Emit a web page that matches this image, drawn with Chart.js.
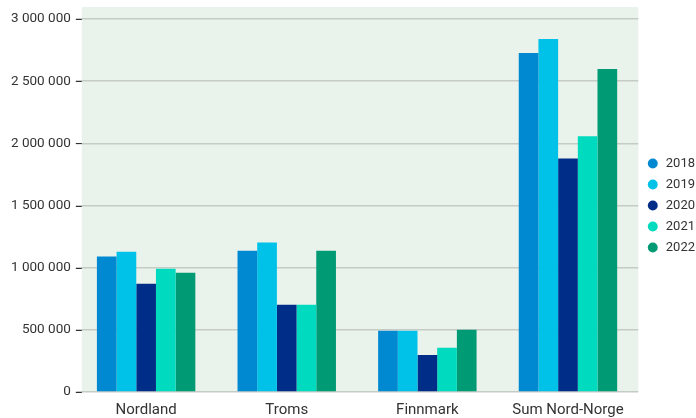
<!DOCTYPE html>
<html>
<head>
<meta charset="utf-8">
<script src="https://cdn.jsdelivr.net/npm/chart.js@4/dist/chart.umd.min.js"></script>
<style>
  html, body { margin: 0; padding: 0; background: #fff; }
  #wrap { width: 696px; height: 418px; }
</style>
</head>
<body>
<div id="wrap"><canvas id="chart"></canvas></div>
<script>
"use strict";

var regions = ["Nordland", "Troms", "Finnmark", "Sum Nord-Norge"];
var years = ["2018", "2019", "2020", "2021", "2022"];
var colors = ["#0089d0", "#00c1e8", "#002d87", "#00dabe", "#009a75"];

var v2018 = [1090000, 1137000, 492000, 2726000];
var v2019 = [1129000, 1202000, 492000, 2839000];
var v2020 = [871000, 702000, 298000, 1879000];
var v2021 = [992000, 702000, 355000, 2057000];
var v2022 = [960000, 1137000, 500000, 2597000];
var series = [v2018, v2019, v2020, v2021, v2022];

function fmt(n) {
	return String(n).replace(/\B(?=(\d{3})+(?!\d))/g, " ");
}

// light green plot background, starts a few px right of the axis and above the top line
var plotBg = {
	id: "plotBg",
	beforeDraw: function (chart) {
		var a = chart.chartArea, c = chart.ctx;
		c.save();
		c.fillStyle = "#eaf3eb";
		c.fillRect(a.left + 6, a.top - 12, a.right - a.left - 6, a.bottom - a.top + 12);
		c.restore();
	},
	afterDatasetsDraw: function (chart) {
		// dark tick marks on the y axis
		var a = chart.chartArea, c = chart.ctx, y = chart.scales.y;
		c.save();
		c.strokeStyle = "#333";
		c.lineWidth = 1;
		y.ticks.forEach(function (t) {
			var py = Math.round(y.getPixelForValue(t.value)) + 0.5;
			c.beginPath();
			c.moveTo(a.left, py);
			c.lineTo(a.left + 6, py);
			c.stroke();
		});
		c.restore();
	}
};

var ctx = document.getElementById("chart");
var chart = new Chart(ctx, {
	type: "bar",
	data: {
		labels: regions,
		datasets: years.map(function (y, i) {
			return {
				label: y,
				data: series[i],
				backgroundColor: colors[i],
				borderWidth: 0,
				barPercentage: 1.0,
				categoryPercentage: 0.7
			};
		})
	},
	options: {
		responsive: true,
		maintainAspectRatio: false,
		animation: false,
		layout: { padding: { top: 19, right: -9, left: 6, bottom: -10 } },
		plugins: {
			tooltip: { enabled: false },
			legend: {
				position: "right",
				fullSize: false,
				labels: {
					usePointStyle: true,
					pointStyle: "circle",
					boxWidth: 13,
					boxHeight: 7,
					padding: 8,
					color: "#333",
					font: { family: "Roboto", size: 13 }
				}
			}
		},
		scales: {
			x: {
				grid: { display: false, drawTicks: false },
				border: { display: false },
				ticks: { color: "#333", font: { family: "Roboto", size: 15 }, padding: 9 }
			},
			y: {
				min: 0,
				max: 3000000,
				ticks: {
					stepSize: 500000,
					color: "#333",
					padding: 5,
					font: { family: "Roboto", size: 13.5 },
					callback: function (v) { return fmt(v); }
				},
				grid: { color: "#c6cbc6", lineWidth: 1.5, drawTicks: false },
				border: { display: false }
			}
		}
	},
	plugins: [plotBg]
});
</script>
</body>
</html>
